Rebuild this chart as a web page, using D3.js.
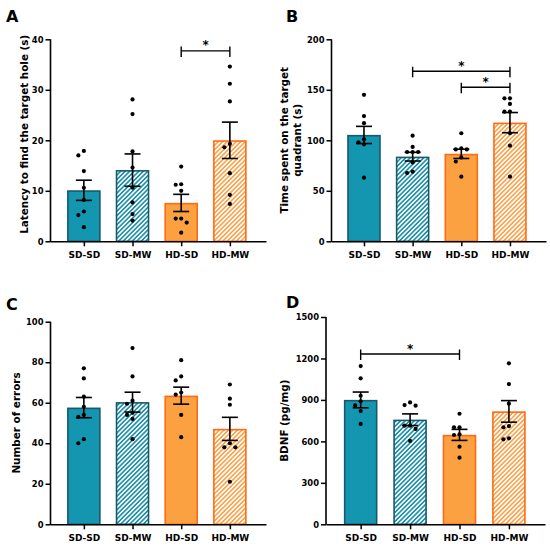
<!DOCTYPE html>
<html><head><meta charset="utf-8">
<script src="https://cdn.jsdelivr.net/npm/d3@7"></script>
<style>
html,body{margin:0;padding:0;background:#fff;}
svg text{font-family:"DejaVu Sans",Arial,sans-serif;font-weight:bold;fill:#000;}
</style></head>
<body><svg id="chart" width="550" height="551"></svg>
<script>
const categories = ["SD-SD","SD-MW","HD-SD","HD-MW"];

const latencyPoints = [[17.9,17.0,13.9,10.6,8.2,5.9,5.2,2.8],[28.1,25.2,17.8,14.6,10.6,7.7,5.4,4.1],[14.8,11.2,11.3,10.0,4.5,4.5,3.7,1.7],[34.6,31.2,27.7,19.3,18.6,13.5,9.2,7.4]];
const latencyMeans = [10.1,14.1,7.6,20.0];
const latencySem = [2.0,3.2,1.7,3.6];
const latencyTicks = [0,10,20,30,40];
const latencySig = [{from:"HD-SD",to:"HD-MW",y:37.7}];

const timePoints = [[145,124,117,101,98,96,63],[104.6,93.4,88.4,88.4,88.4,78,68.9,67.6],[107,91,92,91,83,79,64],[141.6,141.6,136,128.3,128.3,107,94.7,64]];
const timeMeans = [105.3,83.8,86.6,117.5];
const timeSem = [8.5,4.3,4.6,10.0];
const timeTicks = [0,50,100,150,200];
const timeSig = [{from:"SD-MW",to:"HD-MW",y:168.3},{from:"HD-SD",to:"HD-MW",y:152.5}];

const errorsPoints = [[77,72,63,58,54,53,42,40],[87,73,61,59.5,55,54,52,42],[81,73,71,65,64,54,43],[69,62,59,40,38,38,21]];
const errorsMeans = [57.6,60.3,63.5,47.1];
const errorsSem = [5.0,4.9,4.2,5.7];
const errorsTicks = [0,20,40,60,80,100];
const errorsSig = [];

const bdnfPoints = [[1145,1056,930,890,860,820,726],[858,863,882,714,714,690,603],[800,702,702,651,646,562,482],[1165,1015,873,711,702,622,615]];
const bdnfMeans = [900,757,647,817];
const bdnfSem = [57,42,40,78];
const bdnfTicks = [0,300,600,900,1200,1500];
const bdnfSig = [{from:"SD-SD",to:"HD-SD",y:1232}];

const svg = d3.select("#chart");
const defs = svg.append("defs");
function hatch(id, color, sw){
  const w = 3.2;
  const p = defs.append("pattern").attr("id",id).attr("patternUnits","userSpaceOnUse")
    .attr("width",w).attr("height",w).attr("patternTransform","rotate(45)");
  p.append("rect").attr("width",w).attr("height",w).attr("fill","#fff");
  p.append("line").attr("x1",w/2).attr("y1",0).attr("x2",w/2).attr("y2",w)
    .attr("stroke",color).attr("stroke-width",sw);
}
hatch("hTeal","#1a90aa",1.6);
hatch("hOrange","#fca34c",1.6);

const fills = ["#1596b0","url(#hTeal)","#fca142","url(#hOrange)"];
const strokes = ["#17596a","#17596a","#ff6a13","#ff6a13"];
const FONT = "'DejaVu Sans',Arial,sans-serif";

function panel(cfg){
  const g = svg.append("g");
  const y = d3.scaleLinear().domain([0, cfg.ticks[cfg.ticks.length-1]]).range([cfg.bottom, cfg.top]);
  const x = d3.scalePoint().domain(categories).range([cfg.left, cfg.right]).padding(cfg.pad).align(cfg.align);

  g.selectAll("rect.bar").data(cfg.means).enter().append("rect")
    .attr("x",(d,i)=>x(categories[i])-16).attr("width",32)
    .attr("y",d=>y(d)+0.75).attr("height",d=>cfg.bottom-y(d)-0.75)
    .attr("fill",(d,i)=>fills[i]).attr("stroke",(d,i)=>strokes[i]).attr("stroke-width",1.6);

  cfg.points.forEach((vals,i)=>{
    const cx = x(categories[i]);
    const placed = [];
    const sorted = vals.slice().sort((a,b)=>b-a);
    sorted.forEach(v=>{
      const py = y(v);
      const cands = [0,-5.5,5.5,-11,11,-16.5,16.5];
      let off = 0;
      for(const c of cands){
        if(placed.every(p=>Math.hypot(p[0]-c,p[1]-py)>=5)){off=c;break;}
      }
      placed.push([off,py]);
    });
    g.selectAll(null).data(placed).enter().append("circle")
      .attr("cx",p=>cx+p[0]).attr("cy",p=>p[1]).attr("r",2.1).attr("fill","#000");
  });

  cfg.means.forEach((m,i)=>{
    const cx = x(categories[i]), s = cfg.sem[i];
    g.append("line").attr("x1",cx).attr("x2",cx).attr("y1",y(m+s)).attr("y2",y(m-s)).attr("stroke","#000").attr("stroke-width",1.6);
    [m+s,m-s].forEach(v=>g.append("line").attr("x1",cx-8).attr("x2",cx+8).attr("y1",y(v)).attr("y2",y(v)).attr("stroke","#000").attr("stroke-width",1.6));
  });

  const ya = g.append("g").attr("transform",`translate(${cfg.left},0)`)
    .call(d3.axisLeft(y).tickValues(cfg.ticks).tickFormat(d3.format("d")).tickSize(5).tickSizeOuter(0).tickPadding(2));
  const xa = g.append("g").attr("transform",`translate(0,${cfg.bottom})`)
    .call(d3.axisBottom(x).tickSize(5).tickSizeOuter(0).tickPadding(5));
  [ya,xa].forEach(a=>{
    a.select(".domain").attr("stroke","#000").attr("stroke-width",1.6);
    a.selectAll(".tick line").attr("stroke","#000").attr("stroke-width",1.5);
    a.selectAll("text").style("font-family",FONT).style("font-weight","bold");
  });
  ya.selectAll("text").attr("font-size",8.4);
  xa.selectAll("text").attr("font-size",9);
  ya.select(".domain").attr("d",`M0,${cfg.top}V${cfg.bottom+0.8}`);

  cfg.sig.forEach(s=>{
    const x1 = x(s.from), x2 = x(s.to), yy = y(s.y);
    g.append("path").attr("d",`M${x1},${yy-4.5}V${yy+6}M${x1},${yy}H${x2}M${x2},${yy-4.5}V${yy+6}`)
      .attr("fill","none").attr("stroke","#000").attr("stroke-width",1.4);
    g.append("text").attr("x",(x1+x2)/2).attr("y",yy-1.5).attr("text-anchor","middle")
      .attr("font-size",12).text("*");
  });

  const tx = cfg.titleX, ty = (cfg.top+cfg.bottom)/2 + cfg.titleShift;
  const t = g.append("text").attr("transform",`translate(${tx},${ty}) rotate(-90)`)
    .attr("text-anchor","middle").attr("font-size",10.4);
  cfg.title.forEach((line,k)=>{
    t.append("tspan").attr("x",0).attr("dy",k===0?(-(cfg.title.length-1)*13/2+3.7):13).text(line);
  });

  svg.append("text").attr("x",cfg.letterX).attr("y",cfg.letterY).attr("font-size",16).text(cfg.letter);
}

panel({letter:"A",letterX:6,letterY:22,left:50.5,right:266,top:39.3,bottom:241.3,pad:0.714,align:0.48,
  ticks:latencyTicks,means:latencyMeans,sem:latencySem,points:latencyPoints,sig:latencySig,
  title:["Latency to find the target hole (s)"],titleX:24,titleShift:-6});
panel({letter:"B",letterX:286,letterY:22,left:331.5,right:546,top:39.3,bottom:241.3,pad:0.704,align:0.474,
  ticks:timeTicks,means:timeMeans,sem:timeSem,points:timePoints,sig:timeSig,
  title:["Time spent on the target","quadrant (s)"],titleX:291,titleShift:0});
panel({letter:"C",letterX:6,letterY:310,left:50.5,right:266,top:321.7,bottom:524.3,pad:0.714,align:0.48,
  ticks:errorsTicks,means:errorsMeans,sem:errorsSem,points:errorsPoints,sig:errorsSig,
  title:["Number of errors"],titleX:16,titleShift:0});
panel({letter:"D",letterX:286,letterY:308,left:326,right:545,top:317,bottom:524.3,pad:0.716,align:0.49,
  ticks:bdnfTicks,means:bdnfMeans,sem:bdnfSem,points:bdnfPoints,sig:bdnfSig,
  title:["BDNF (pg/mg)"],titleX:284,titleShift:0});
</script></body></html>
